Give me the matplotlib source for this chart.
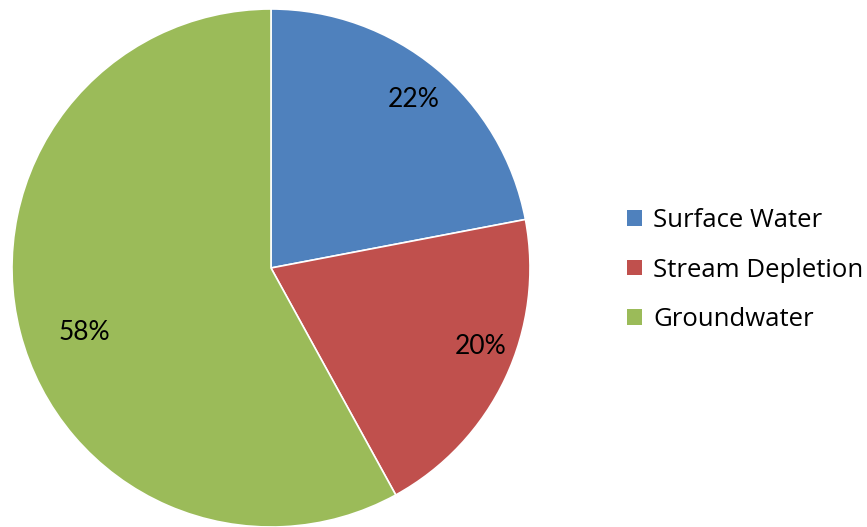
import matplotlib.pyplot as plt
from matplotlib.patches import Patch

# water source shares (%)
sources = ["Surface Water", "Stream Depletion", "Groundwater"]
shares = [22, 20, 58]
colors = ["#4F81BD", "#C0504D", "#9BBB59"]

# where each percentage label sits, in pie radius units
label_xy = [(0.55, 0.65), (0.81, -0.305), (-0.72, -0.25)]

plt.rcParams['font.family'] = ['Lato', 'DejaVu Sans']

fig = plt.figure(figsize=(8.67, 5.27), dpi=100)
ax = fig.add_axes([12 / 867, 0, 518 / 867, 518 / 527])

wedges, texts, autotexts = ax.pie(
    shares, colors=colors, startangle=90, counterclock=False,
    autopct='%1.0f%%',
    wedgeprops=dict(edgecolor='white', linewidth=1.2),
    textprops=dict(fontsize=19, color='black'),
)
for t, xy in zip(autotexts, label_xy):
    t.set_position(xy)

ax.set_xlim(-1, 1)
ax.set_ylim(-1, 1)
ax.set_aspect('equal')

handles = [Patch(facecolor=c, edgecolor='none') for c in colors]
fig.legend(handles, sources, loc='center left', bbox_to_anchor=(604 / 867, 1 - 270 / 527),
           frameon=False, prop=dict(family='Open Sans', size=18.5),
           handlelength=0.57, handleheight=0.57,
           handletextpad=0.45, labelspacing=0.95)

fig.savefig("out.png", dpi=100)
